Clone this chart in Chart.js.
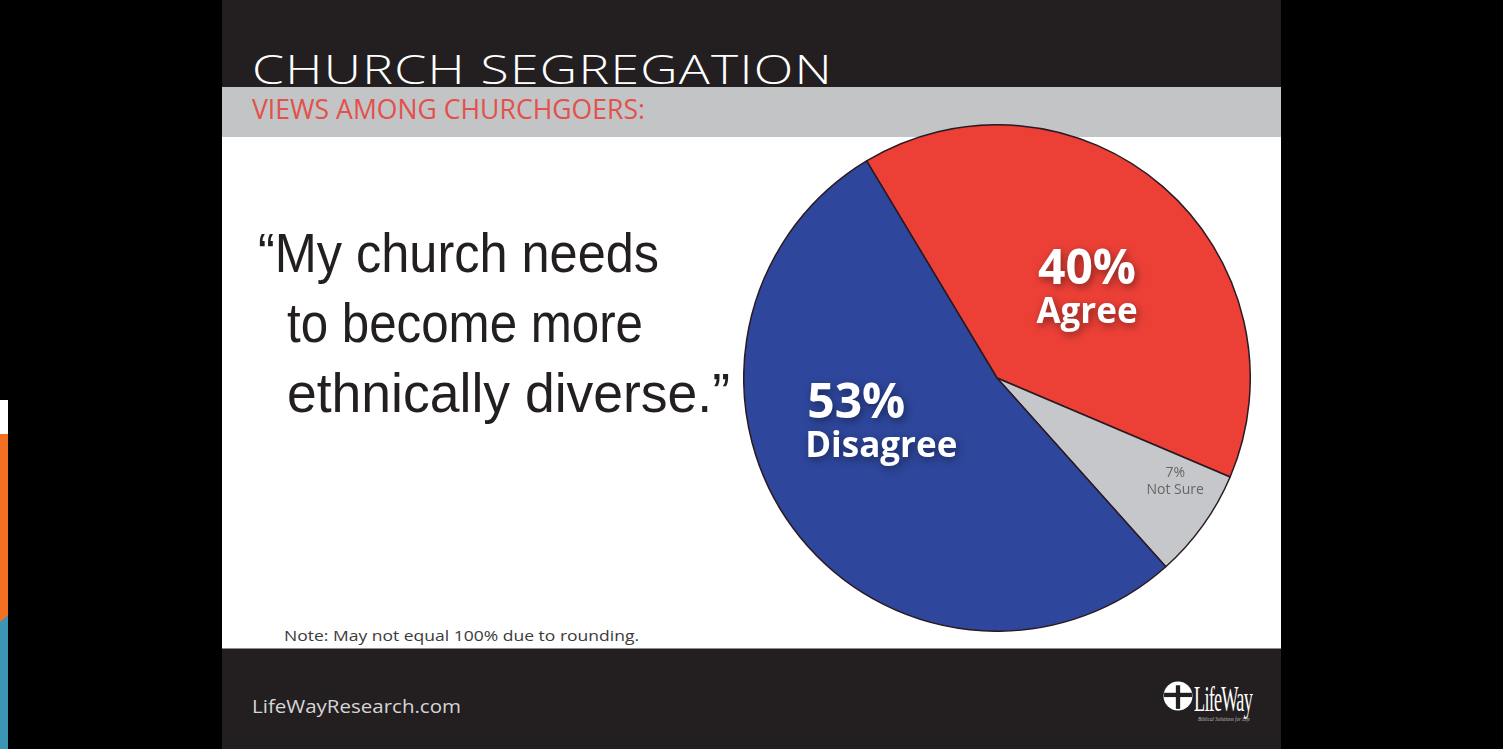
<!DOCTYPE html>
<html>
<head>
<meta charset="utf-8">
<title>Church Segregation</title>
<script src="https://cdn.jsdelivr.net/npm/chart.js@4.4.1/dist/chart.umd.min.js"></script>
<style>
    html, body { margin: 0; padding: 0; background: #000; width: 1503px; height: 749px; overflow: hidden; }
    #slide { position: absolute; left: 222px; top: 0; width: 1059px; height: 749px; background: #fff; overflow: hidden; }
    .band-top { position: absolute; left: 0; top: 0; width: 100%; height: 87px; background: #231f20; }
    .band-gray { position: absolute; left: 0; top: 87px; width: 100%; height: 50px; background: #c3c4c6; }
    .band-foot { position: absolute; left: 0; top: 648px; width: 100%; height: 101px; background: #231f20; border-top: 1px solid #8d8d8d; }
    .txt { position: absolute; white-space: nowrap; line-height: 1; transform-origin: 0 0; }
    #title { left: 30px; top: 40px; font: 300 41px "Open Sans", sans-serif; color: #fff; letter-spacing: 1px; }
    #subtitle { left: 30px; top: 90px; font: 400 27px "Open Sans", sans-serif; color: #e2514b; }
    .quote { font: 400 56px "Liberation Sans Narrow", "Liberation Sans", sans-serif; color: #231f20; }
    #note { left: 62px; top: 626px; font: 400 14px "Open Sans", sans-serif; color: #3a3a3a; }
    #site { left: 30px; top: 693px; font: 400 19px "Open Sans", sans-serif; color: #d6d6d6; }
    #logoText { left: 972px; top: 678px; font: 400 36px "Liberation Serif", serif; color: #fff; letter-spacing: -1.5px; }
    #tagline { left: 976px; top: 716px; font: italic 400 6px "Liberation Serif", serif; color: #bbb; }
    #logoIcon { position: absolute; left: 941px; top: 681px; width: 30px; height: 30px; }
    #chartBox { position: absolute; left: 521px; top: 124px; width: 508px; height: 508px; z-index: 2; }
    .strip { position: absolute; left: 0; width: 8px; }
</style>
</head>
<body>
<div class="strip" style="top:400px;height:34px;background:#fff;"></div>
<div class="strip" style="top:434px;height:315px;background:#f36f21;"></div>
<div class="strip" style="top:615px;height:134px;background:#3d95b5;clip-path:polygon(0 7px,100% 0,100% 100%,0 100%);"></div>

<div id="slide">
    <div class="band-top"></div>
    <div class="band-gray"></div>
    <div class="band-foot"></div>

    <div id="title" class="txt" data-w="581">CHURCH SEGREGATION</div>
    <div id="subtitle" class="txt" data-w="393">VIEWS AMONG CHURCHGOERS:</div>

    <div class="txt quote" style="left:36px;top:220px;" data-w="401">“My church needs</div>
    <div class="txt quote" style="left:65px;top:290px;" data-w="356">to become more</div>
    <div class="txt quote" style="left:65px;top:360px;" data-w="443">ethnically diverse.”</div>

    <div id="note" class="txt" data-w="355">Note: May not equal 100% due to rounding.</div>

    <div id="site" class="txt" data-w="209">LifeWayResearch.com</div>
    <svg id="logoIcon" viewBox="0 0 28 28">
        <circle cx="14" cy="14" r="13.5" fill="#fff"/>
        <rect x="1" y="11" width="26" height="4" fill="#231f20"/>
        <rect x="12" y="4" width="4" height="22" fill="#231f20"/>
    </svg>
    <div id="logoText" class="txt" data-w="58">LifeWay</div>
    <div id="tagline" class="txt" data-w="52">Biblical Solutions for Life</div>

    <div id="chartBox"><canvas id="pieChart" width="508" height="508"></canvas></div>
</div>

<script>
// ========== بيانات الرسم ==========
const categories = ['Agree', 'Not Sure', 'Disagree'];
const values = [40, 7, 53];
const sliceColors = ['#ec4037', '#c6c7cb', '#2e479c'];

// موضع كل تسمية داخل الشريحة (جزء من الزاوية، جزء من نصف القطر)
const labelAngleFrac = [0.53, 0.29, 0.58];
const labelRadiusFrac = [0.5, 0.815, 0.49];
const labelKind = ['big', 'small', 'big'];
const labelAlign = ['center', 'center', 'left'];

// ضبط عرض النصوص
function fitTexts() {
    document.querySelectorAll('[data-w]').forEach(el => {
        const target = parseFloat(el.dataset.w);
        const natural = el.getBoundingClientRect().width;
        if (natural > 0) el.style.transform = 'scaleX(' + (target / natural) + ')';
    });
}

// تسميات الشرائح
const sliceLabels = {
    id: 'sliceLabels',
    afterDatasetsDraw(chart) {
        const ctx = chart.ctx;
        const meta = chart.getDatasetMeta(0);
        meta.data.forEach((arc, i) => {
            const p = arc.getProps(['x', 'y', 'startAngle', 'endAngle', 'outerRadius'], true);
            const a = p.startAngle + labelAngleFrac[i] * (p.endAngle - p.startAngle);
            const r = p.outerRadius * labelRadiusFrac[i];
            const cx = p.x + Math.cos(a) * r;
            const cy = p.y + Math.sin(a) * r;
            const line1 = values[i] + '%';
            const line2 = categories[i];

            ctx.save();
            let f1, f2, y1, y2;
            if (labelKind[i] === 'big') {
                f1 = '700 48px "Open Sans", sans-serif';
                f2 = '700 35px "Open Sans", sans-serif';
                y1 = cy - 5; y2 = cy + 34;
                ctx.fillStyle = '#fff';
                ctx.shadowColor = 'rgba(0,0,0,0.45)';
                ctx.shadowBlur = 8;
                ctx.shadowOffsetX = 2;
                ctx.shadowOffsetY = 3;
            } else {
                f1 = '400 14px "Open Sans", sans-serif';
                f2 = '400 14px "Open Sans", sans-serif';
                y1 = cy - 5; y2 = cy + 12;
                ctx.fillStyle = '#666';
            }
            ctx.textBaseline = 'alphabetic';
            if (labelAlign[i] === 'left') {
                ctx.font = f1; const w1 = ctx.measureText(line1).width;
                ctx.font = f2; const w2 = ctx.measureText(line2).width;
                const left = cx - Math.max(w1, w2) / 2;
                ctx.textAlign = 'left';
                ctx.font = f1; ctx.fillText(line1, left + 2, y1);
                ctx.font = f2; ctx.fillText(line2, left, y2);
            } else {
                ctx.textAlign = 'center';
                ctx.font = f1; ctx.fillText(line1, cx, y1);
                ctx.font = f2; ctx.fillText(line2, cx, y2);
            }
            ctx.restore();
        });
    }
};

function initPie() {
    new Chart(document.getElementById('pieChart'), {
        type: 'pie',
        data: {
            labels: categories,
            datasets: [{
                data: values,
                backgroundColor: sliceColors,
                borderColor: '#2b1a22',
                borderWidth: 1.5
            }]
        },
        options: {
            responsive: false,
            animation: false,
            rotation: -31,
            layout: { padding: 0 },
            plugins: { legend: { display: false }, tooltip: { enabled: false } }
        },
        plugins: [sliceLabels]
    });
}

window.onload = function() {
    document.fonts.ready.then(() => {
        fitTexts();
        initPie();
    });
};
</script>
</body>
</html>
